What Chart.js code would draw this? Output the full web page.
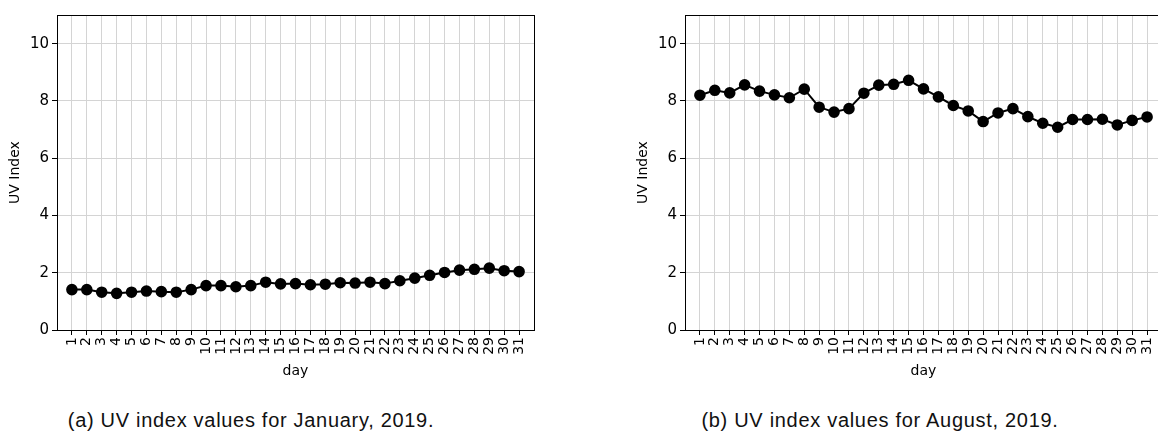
<!DOCTYPE html>
<html>
<head>
<meta charset="utf-8">
<script src="https://cdn.jsdelivr.net/npm/chart.js@4/dist/chart.umd.min.js"></script>
<style>
  html, body { margin:0; padding:0; background:#fff; overflow:hidden; width:1158px; height:434px; }
  canvas { position:absolute; top:0; }
  #c1 { left:0; }
  #c2 { left:628px; }
  .cap { position:absolute; top:409px; font-family:"Liberation Sans", Arial, sans-serif; font-size:20px; letter-spacing:0.7px; color:#111; white-space:nowrap; transform:translateX(-50%); }
</style>
</head>
<body>
<canvas id="c1" width="560" height="380"></canvas>
<canvas id="c2" width="560" height="380"></canvas>
<div class="cap" style="left:251px">(a) UV index values for January, 2019.</div>
<div class="cap" style="left:880px">(b) UV index values for August, 2019.</div>
<script>
const days = [1,2,3,4,5,6,7,8,9,10,11,12,13,14,15,16,17,18,19,20,21,22,23,24,25,26,27,28,29,30,31];
const janUV = [1.41,1.41,1.32,1.28,1.32,1.36,1.34,1.32,1.41,1.55,1.55,1.51,1.55,1.67,1.61,1.62,1.58,1.60,1.65,1.64,1.67,1.62,1.72,1.81,1.91,2.01,2.09,2.12,2.16,2.07,2.04];
const augUV = [8.20,8.37,8.28,8.56,8.34,8.21,8.11,8.41,7.78,7.61,7.73,8.27,8.55,8.58,8.72,8.42,8.14,7.84,7.65,7.28,7.58,7.73,7.45,7.22,7.08,7.35,7.35,7.36,7.16,7.32,7.44];
const yTicks = [0,2,4,6,8,10];
const yTitle = "UV Index";
const xTitle = "day";

Chart.defaults.font.family = "'DejaVu Sans', sans-serif";
Chart.defaults.font.size = 14;
Chart.defaults.color = '#000';

const boxPlugin = {
  id: 'box',
  afterDatasetsDraw(chart) {
    const a = chart.chartArea, ctx = chart.ctx;
    ctx.save();
    ctx.strokeStyle = '#000';
    ctx.lineWidth = 1;
    ctx.strokeRect(Math.round(a.left)+0.5, Math.round(a.top)+0.5, Math.round(a.right-a.left), Math.round(a.bottom-a.top));
    ctx.restore();
  }
};

function makeChart(id, values) {
  const data = days.map((d,i) => ({x:d, y:values[i]}));
  return new Chart(document.getElementById(id), {
    type: 'line',
    data: { datasets: [{
      data: data,
      borderColor: '#000', backgroundColor: '#000',
      borderWidth: 2, pointRadius: 4.8, pointHoverRadius: 4.8,
      pointStyle: 'circle', tension: 0
    }]},
    options: {
      responsive: false, animation: false, devicePixelRatio: 1,
      layout: { padding: { top: 15, right: 26, left: 7, bottom: 0 } },
      plugins: { legend: { display: false }, tooltip: { enabled: false } },
      scales: {
        x: {
          type: 'linear', min: 0, max: 32,
          afterBuildTicks: s => { s.ticks = days.map(v => ({value: v})); },
          afterFit: s => { s.height = 50; },
          ticks: { autoSkip: false, minRotation: 90, maxRotation: 90, padding: 2, font: { size: 14 } },
          grid: { color: '#d4d4d4', lineWidth: 1, tickColor: '#000', tickLength: 5 },
          border: { display: false },
          title: { display: true, text: xTitle, font: { size: 14 }, padding: { top: 0, bottom: 0 } }
        },
        y: {
          min: 0, max: 11,
          afterBuildTicks: s => { s.ticks = yTicks.map(v => ({value: v})); },
          afterFit: s => { s.width = 50; },
          ticks: { padding: 3, font: { size: 15 } },
          grid: { color: '#d4d4d4', lineWidth: 1, tickColor: '#000', tickLength: 5 },
          border: { display: false },
          title: { display: true, text: yTitle, font: { size: 14 }, padding: { top: 0, bottom: 0 } }
        }
      }
    },
    plugins: [boxPlugin]
  });
}
makeChart('c1', janUV);
makeChart('c2', augUV);
</script>
</body>
</html>
